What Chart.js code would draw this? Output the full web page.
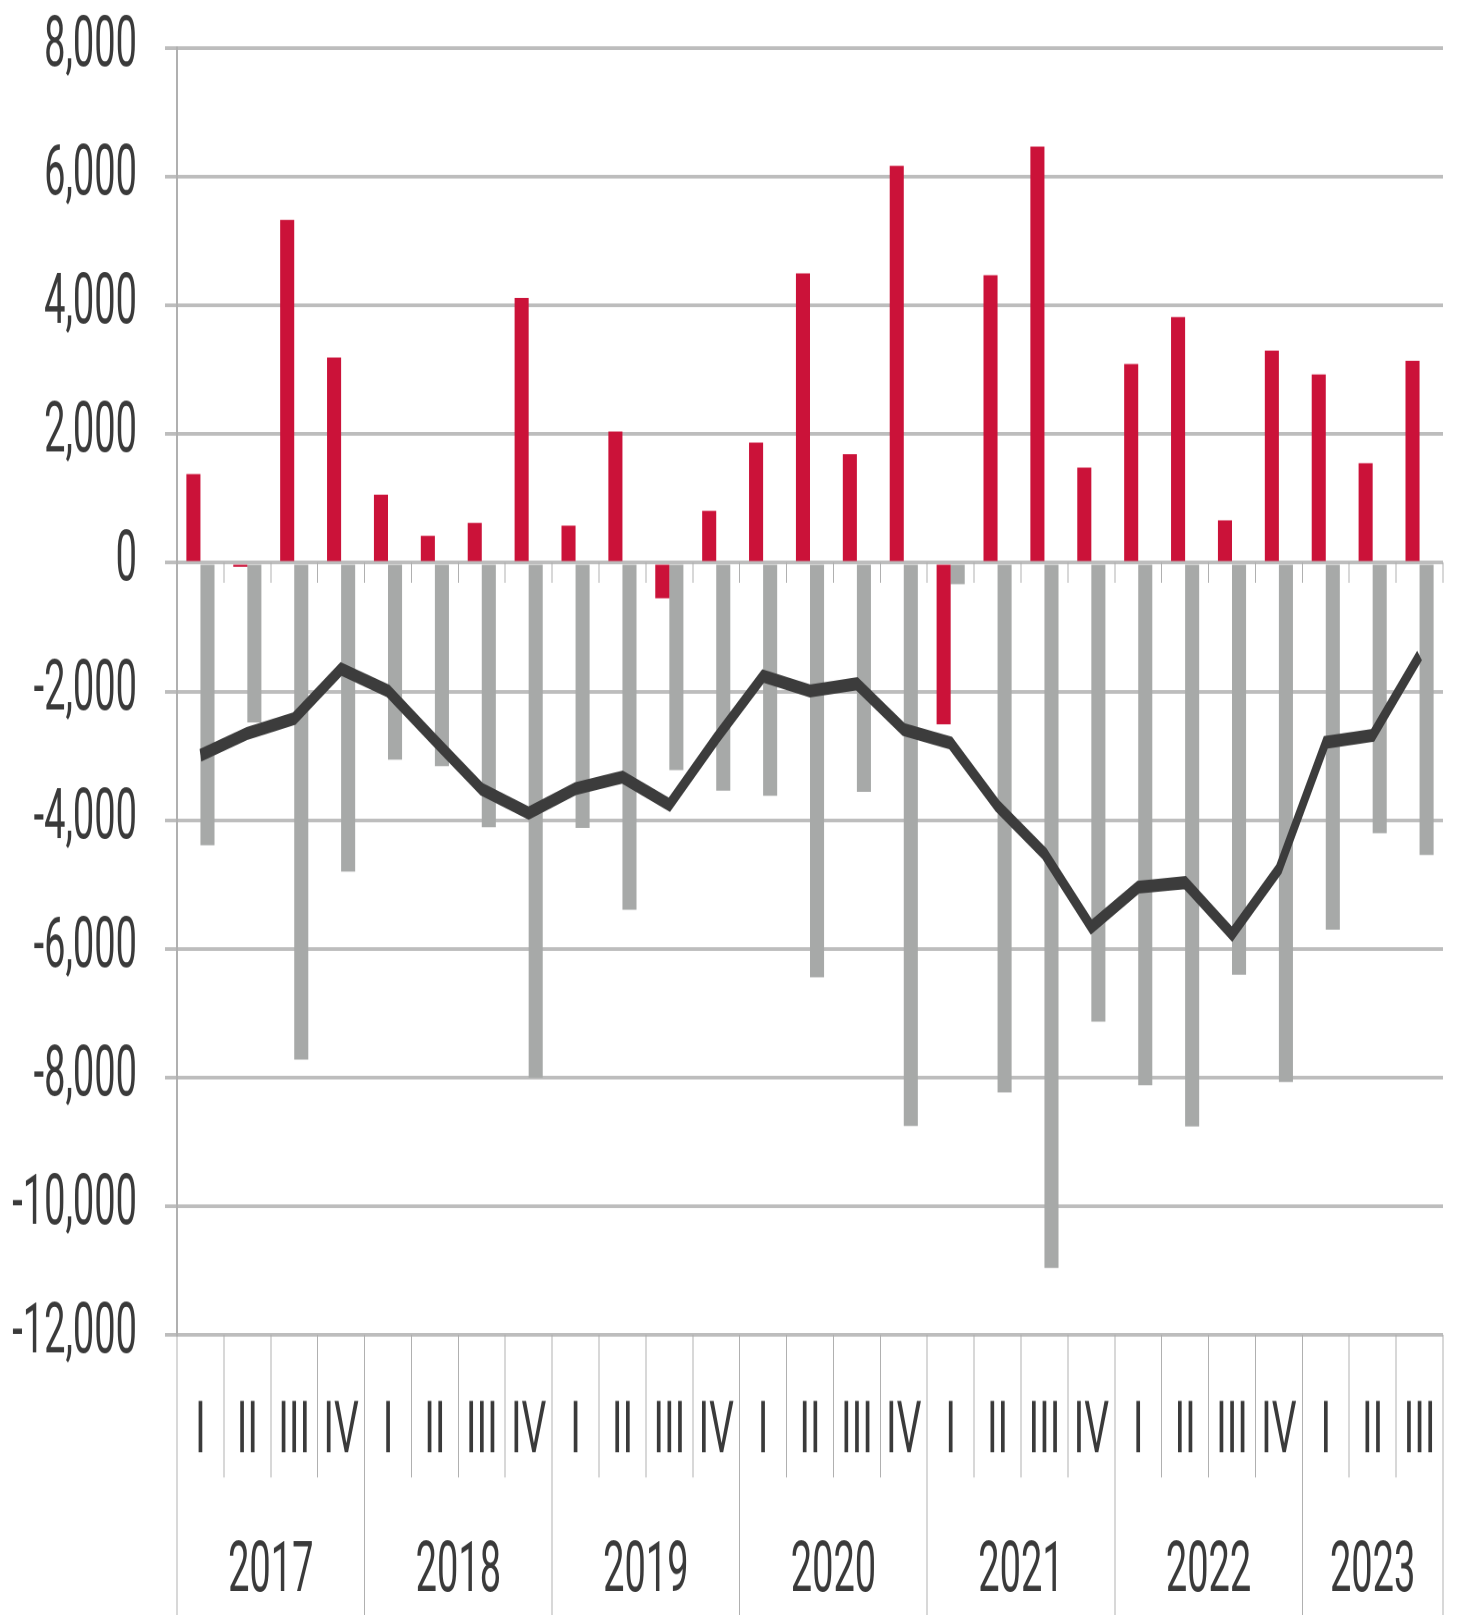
<!DOCTYPE html>
<html lang="en">
<head>
    <meta charset="UTF-8">
    <title>Quarterly balance 2017-2023</title>
    <script src="https://cdn.jsdelivr.net/npm/chart.js"></script>
    <style>
        html, body { margin: 0; padding: 0; background: #fff; width: 1461px; height: 1615px; }
        /* the original graphic is stretched vertically, so draw flat and scale it up */
        #wrap {
            width: 1461px;
            height: 873px;
            transform: scaleY(1.85);
            transform-origin: 0 0;
        }
        #myChart { display: block; width: 1461px; height: 873px; }
    </style>
</head>
<body>
    <div id="wrap"><canvas id="myChart" width="1461" height="873"></canvas></div>

    <script>
        // categories
        const quarters = ['I', 'II', 'III', 'IV', 'I', 'II', 'III', 'IV', 'I', 'II', 'III', 'IV',
                          'I', 'II', 'III', 'IV', 'I', 'II', 'III', 'IV', 'I', 'II', 'III', 'IV',
                          'I', 'II', 'III'];
        const years = ['2017', '2018', '2019', '2020', '2021', '2022', '2023'];
        const quartersPerYear = [4, 4, 4, 4, 4, 4, 3];

        // series values
        const redBars = [1380, -60, 5330, 3190, 1060, 420, 620, 4120, 580, 2040, -550, 810,
                         1870, 4500, 1690, 6170, -2510, 4470, 6470, 1480, 3090, 3820, 660, 3300,
                         2930, 1550, 3140];
        const grayBars = [-4390, -2480, -7720, -4800, -3060, -3160, -4110, -8000, -4120, -5390, -3220, -3540,
                          -3620, -6440, -3560, -8750, -330, -8230, -10960, -7130, -8120, -8760, -6400, -8070,
                          -5700, -4200, -4540];
        const lineValues = [-2990, -2650, -2420, -1650, -1990, -2760, -3520, -3890, -3510, -3330, -3760, -2730,
                            -1760, -1990, -1880, -2590, -2800, -3780, -4520, -5660, -5040, -4970, -5770, -4760,
                            -2790, -2680, -1440];

        // tick labels
        const yTicks = [-12000, -10000, -8000, -6000, -4000, -2000, 0, 2000, 4000, 6000, 8000];

        // year boundaries and centres in category-index units
        const yearEdges = [-0.5];
        const yearCentres = [];
        quartersPerYear.forEach(n => {
            const start = yearEdges[yearEdges.length - 1];
            yearCentres.push(start + n / 2);
            yearEdges.push(start + n);
        });

        const textColor = '#3a3a3a';
        const lineGray = '#b0b0b0';

        const ctx = document.getElementById('myChart').getContext('2d');
        const chart = new Chart(ctx, {
            type: 'bar',
            data: {
                labels: quarters,
                datasets: [
                    {
                        type: 'line',
                        data: lineValues,
                        borderColor: '#3c3c3c',
                        borderWidth: 7,
                        pointRadius: 0,
                        tension: 0,
                        borderJoinStyle: 'miter',
                        order: 0
                    },
                    {
                        data: redBars,
                        backgroundColor: '#cb1239',
                        categoryPercentage: 0.6,
                        barPercentage: 1.0,
                        order: 1
                    },
                    {
                        data: grayBars,
                        backgroundColor: '#a7a9a8',
                        categoryPercentage: 0.6,
                        barPercentage: 1.0,
                        order: 1
                    }
                ]
            },
            options: {
                responsive: false,
                animation: false,
                devicePixelRatio: 2,
                layout: { padding: { top: 26, right: 18, left: 0, bottom: 0 } },
                plugins: { legend: { display: false }, tooltip: { enabled: false } },
                scales: {
                    y: {
                        min: -12000,
                        max: 8000,
                        afterBuildTicks: s => { s.ticks = yTicks.map(v => ({ value: v })); },
                        afterFit: s => {
                            s.width = 177;
                            // let layout.padding alone decide the top edge
                            s.paddingTop = 0;
                            s.paddingBottom = 0;
                        },
                        grid: { color: '#bdbdbd', lineWidth: 2, tickLength: 12 },
                        border: { display: true, color: lineGray, width: 2 },
                        ticks: {
                            padding: 28,
                            color: textColor,
                            font: { family: 'Roboto', size: 38 },
                            callback: v => v.toLocaleString('en-US')
                        }
                    },
                    x: {
                        type: 'category',
                        position: 'bottom',
                        offset: true,
                        afterFit: s => { s.height = 76; },
                        grid: {
                            offset: true,
                            drawOnChartArea: false,
                            tickLength: 77,
                            color: lineGray,
                            lineWidth: 1
                        },
                        border: { display: false },
                        ticks: {
                            autoSkip: false,
                            maxRotation: 0,
                            padding: -47,
                            color: textColor,
                            font: { family: 'Roboto', size: 39 }
                        }
                    },
                    xYears: {
                        type: 'linear',
                        position: 'bottom',
                        min: -0.5,
                        max: 26.5,
                        offset: false,
                        afterBuildTicks: s => {
                            s.ticks = yearEdges.concat(yearCentres)
                                .sort((a, b) => a - b)
                                .map(v => ({ value: v }));
                        },
                        afterFit: s => { s.height = 75.4; },
                        grid: {
                            offset: false,
                            drawOnChartArea: false,
                            tickLength: 76,
                            lineWidth: 1,
                            color: c => (c.tick && yearEdges.includes(c.tick.value)) ? lineGray : 'rgba(0,0,0,0)'
                        },
                        border: { display: false },
                        ticks: {
                            autoSkip: false,
                            maxRotation: 0,
                            padding: -46,
                            color: textColor,
                            font: { family: 'Roboto', size: 38 },
                            callback: v => {
                                const i = yearCentres.indexOf(v);
                                return i >= 0 ? years[i] : '';
                            }
                        }
                    },
                    xZero: {
                        type: 'category',
                        position: { y: 0 },
                        offset: true,
                        grid: {
                            offset: true,
                            drawOnChartArea: false,
                            tickLength: 11,
                            color: lineGray,
                            lineWidth: 1
                        },
                        border: { display: false },
                        ticks: { display: false }
                    }
                }
            }
        });
    </script>
</body>
</html>
